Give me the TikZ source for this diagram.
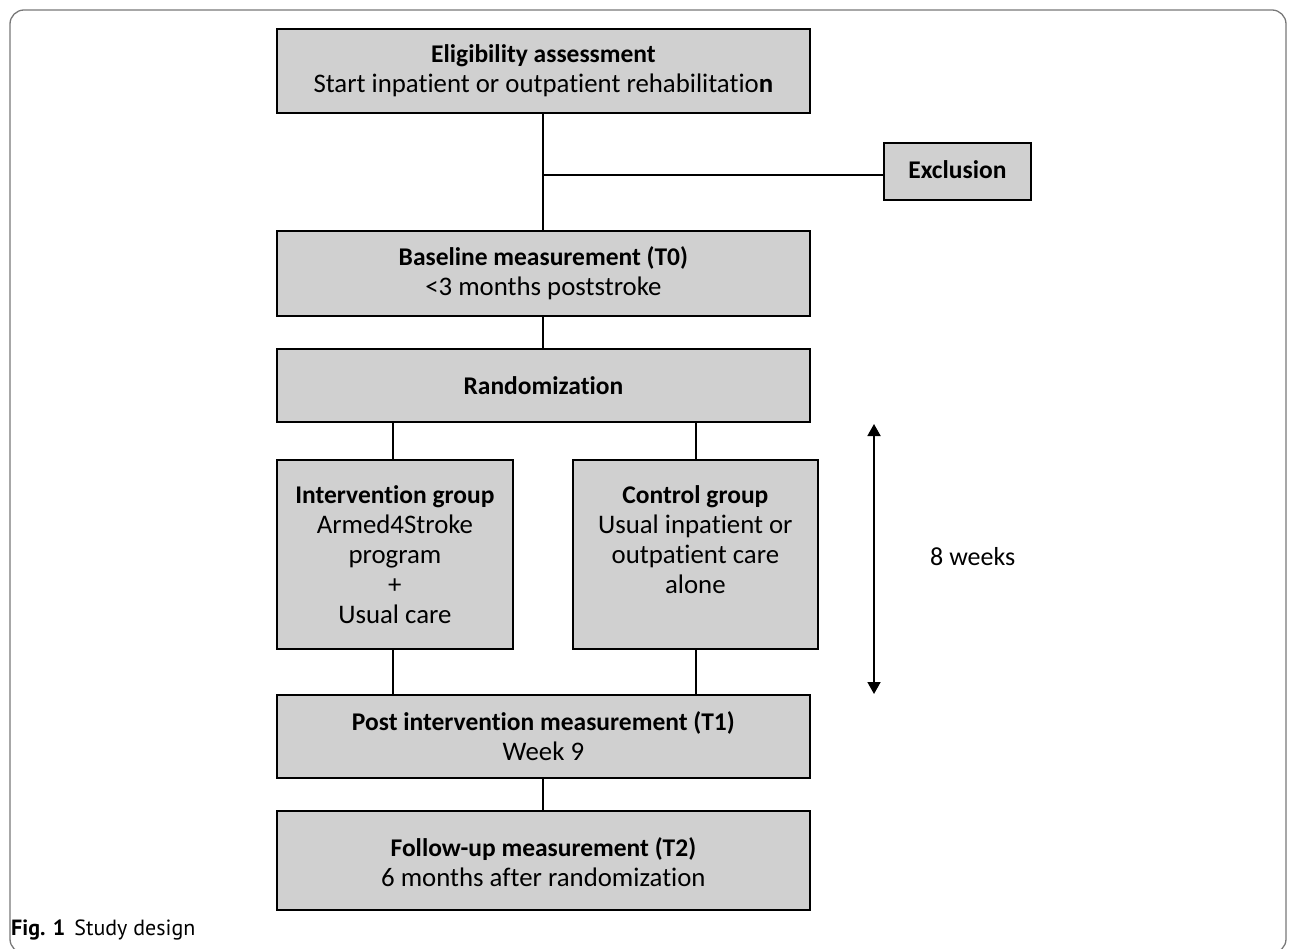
\documentclass[tikz,border=0pt]{standalone}
\usepackage{fontspec}
\setmainfont[Ligatures={NoCommon}]{Carlito}
\newfontfamily\capfont{PT Sans}
\usetikzlibrary{arrows.meta}
\definecolor{boxgray}{RGB}{208,208,208}
\definecolor{framegray}{RGB}{120,120,120}
\newcommand{\bt}[1]{{\fontsize{25.5}{30}\selectfont\bfseries #1}}
\tikzset{
  box/.style={draw=black, line width=1.8pt, fill=boxgray, anchor=north west, inner sep=0pt,
    align=center, font=\fontsize{26.8}{30}\selectfont},
  conn/.style={line width=2pt},
}
\begin{document}
\begin{tikzpicture}[x=1pt,y=-1pt]
\useasboundingbox (0,0) rectangle (1295,949);
\draw[framegray, line width=1.3pt, rounded corners=14pt] (10,10) rectangle (1286,953);
\coordinate (jx) at (543,175);
\coordinate (a1) at (393,421);
\coordinate (a2) at (696,421);
\coordinate (b1) at (393,694);
\coordinate (b2) at (696,694);
% boxes
\node[box, minimum width=533pt, minimum height=84pt] (elig) at (276,28)
  {\bt{Eligibility assessment}\\Start inpatient or outpatient rehabilitatio\textbf{n}};
\node[box, minimum width=147pt, minimum height=57pt] (excl) at (883,142) {\raisebox{3pt}{\bt{Exclusion}}};
\node[box, minimum width=533pt, minimum height=85pt] (base) at (276,230)
  {\bt{Baseline measurement (T0)}\\<3 months poststroke};
\node[box, minimum width=533pt, minimum height=73pt] (rand) at (276,348) {\bt{Randomization}};
\node[box, minimum width=236pt, minimum height=189pt] (interv) at (276,459)
  {\bt{Intervention group}\\Armed4Stroke\\program\\+\\Usual care};
\node[box, minimum width=245pt, minimum height=189pt] (ctrl) at (572,459)
  {\bt{Control group}\\Usual inpatient or\\outpatient care\\alone\\\mbox{}};
\node[box, minimum width=533pt, minimum height=83pt] (post) at (276,694)
  {\bt{Post intervention measurement (T1)}\\Week 9};
\node[box, minimum width=533pt, minimum height=99pt] (fu) at (276,810)
  {\raisebox{-5pt}[\height][\depth]{\begin{tabular}{@{}c@{}}\bt{Follow-up measurement (T2)}\\6 months after randomization\end{tabular}}};
% connectors
\draw[conn] (elig.south) -- (base.north);
\draw[conn] (jx) -- (excl.west |- jx);
\draw[conn] (base.south) -- (rand.north);
\draw[conn] (rand.south -| a1) -- (interv.north -| a1);
\draw[conn] (rand.south -| a2) -- (ctrl.north -| a2);
\draw[conn] (interv.south -| b1) -- (post.north -| b1);
\draw[conn] (ctrl.south -| b2) -- (post.north -| b2);
\draw[conn] (post.south) -- (fu.north);
% 8 weeks arrow
\coordinate (at) at (874,424);
\coordinate (ab) at (874,694);
\draw[line width=1.8pt, {Triangle[length=12pt,width=13pt]}-{Triangle[length=12pt,width=13pt]}] (at) -- (ab);
\node[font=\fontsize{26}{30}\selectfont, anchor=west, inner sep=0pt] (weeks) at (930,557) {8 weeks};
% caption
\node[anchor=west, inner sep=0pt, font=\capfont\fontsize{22}{24}\selectfont] (cap) at (11,930) {\textbf{Fig. 1}\hspace{9pt}Study design};
\end{tikzpicture}
\end{document}
